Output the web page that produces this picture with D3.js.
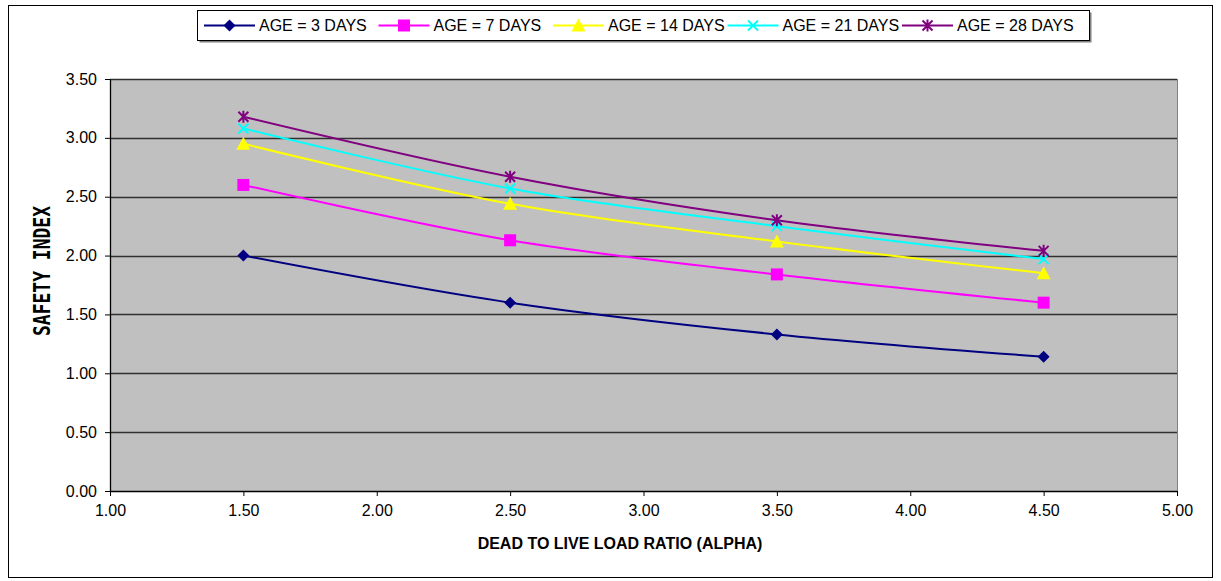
<!DOCTYPE html>
<html lang="en">
<head>
<meta charset="UTF-8">
<title>Safety index</title>
<style>
  body { margin: 0; background: #fff; }
  svg { display: block; }
  .tick text { font-family: Arial, "Liberation Sans", sans-serif; font-size: 16px; fill: #000; }
</style>
</head>
<body>
<svg id="chart" width="1221" height="581"></svg>
<script src="https://cdn.jsdelivr.net/npm/d3@7/dist/d3.min.js"></script>
<script>
// data
const alpha = [1.5, 2.5, 3.5, 4.5];
const seriesNames = ['AGE = 3 DAYS', 'AGE = 7 DAYS', 'AGE = 14 DAYS', 'AGE = 21 DAYS', 'AGE = 28 DAYS'];
const age3 = [2.00, 1.60, 1.33, 1.14];
const age7 = [2.60, 2.13, 1.84, 1.60];
const age14 = [2.95, 2.44, 2.12, 1.85];
const age21 = [3.08, 2.57, 2.25, 1.97];
const age28 = [3.18, 2.67, 2.30, 2.04];
const xTicks = [1, 1.5, 2, 2.5, 3, 3.5, 4, 4.5, 5];
const yTicks = [0, 0.5, 1, 1.5, 2, 2.5, 3, 3.5];

const colors = ['#000080', '#FF00FF', '#FFFF00', '#00FFFF', '#800080'];
const markers = ['diamond', 'square', 'triangle', 'x', 'star'];
const allSeries = [age3, age7, age14, age21, age28].map((vals, i) => ({
  name: seriesNames[i], color: colors[i], marker: markers[i],
  pts: vals.map((v, j) => [alpha[j], v])
}));

const svg = d3.select('#chart');
const plot = { left: 110, right: 1177, top: 79, bottom: 491 };

const x = d3.scaleLinear().domain([1, 5]).range([plot.left, plot.right]);
const y = d3.scaleLinear().domain([0, 3.5]).range([plot.bottom, plot.top]);

// outer frame
svg.append('rect').attr('x', 8.5).attr('y', 5.5).attr('width', 1204).attr('height', 572)
  .attr('fill', '#fff').attr('stroke', '#000').attr('stroke-width', 1);

// plot background
svg.append('rect').attr('x', plot.left).attr('y', plot.top)
  .attr('width', plot.right - plot.left).attr('height', plot.bottom - plot.top)
  .attr('fill', '#C0C0C0');

// grid lines
svg.append('g').selectAll('line').data(yTicks.filter(d => d > 0)).enter().append('line')
  .attr('x1', plot.left).attr('x2', plot.right)
  .attr('y1', d => Math.round(y(d)) + 0.5).attr('y2', d => Math.round(y(d)) + 0.5)
  .attr('stroke', '#303030').attr('stroke-width', 1.3);

// right edge of plot
svg.append('line').attr('x1', plot.right + 0.5).attr('x2', plot.right + 0.5)
  .attr('y1', plot.top).attr('y2', plot.bottom).attr('stroke', '#808080').attr('stroke-width', 1);

// axes
const xAxis = svg.append('g').attr('transform', `translate(0,${plot.bottom})`)
  .call(d3.axisBottom(x).tickValues(xTicks).tickFormat(d3.format('.2f')).tickSize(5).tickSizeOuter(0).tickPadding(9));
const yAxis = svg.append('g').attr('transform', `translate(${plot.left},0)`)
  .call(d3.axisLeft(y).tickValues(yTicks).tickFormat(d3.format('.2f')).tickSize(5).tickSizeOuter(0).tickPadding(8));
[xAxis, yAxis].forEach(a => {
  a.select('.domain').attr('stroke', '#000').attr('stroke-width', 1.3);
  a.selectAll('.tick line').attr('stroke', '#000');
});

// axis titles
svg.append('text').attr('x', 620).attr('y', 549).attr('text-anchor', 'middle')
  .style('font-family', 'Arial, "Liberation Sans", sans-serif').style('font-weight', 'bold').style('font-size', '16px')
  .text('DEAD TO LIVE LOAD RATIO (ALPHA)');
svg.append('text').attr('transform', 'translate(50,271) rotate(-90) scale(1,1.25)')
  .attr('text-anchor', 'middle')
  .style('font-family', '"DejaVu Sans Mono", monospace').style('font-weight', 'bold').style('font-size', '18px')
  .text('SAFETY INDEX');

// marker shapes
function drawMarker(g, type, color) {
  if (type === 'diamond') {
    g.append('path').attr('d', 'M0,-6L6,0L0,6L-6,0Z').attr('fill', color);
  } else if (type === 'square') {
    g.append('rect').attr('x', -6).attr('y', -6).attr('width', 12).attr('height', 12).attr('fill', color);
  } else if (type === 'triangle') {
    g.append('path').attr('d', 'M0,-7L7,6L-7,6Z').attr('fill', color);
  } else if (type === 'x') {
    g.append('path').attr('d', 'M-5,-5L5,5M5,-5L-5,5').attr('stroke', color).attr('stroke-width', 2);
  } else {
    g.append('path').attr('d', 'M-5,-5L5,5M5,-5L-5,5M0,-6L0,6').attr('stroke', color).attr('stroke-width', 2);
  }
}

const line = d3.line().x(d => x(d[0])).y(d => y(d[1])).curve(d3.curveCardinal.tension(0));

const seriesG = svg.append('g').selectAll('g').data(allSeries).enter().append('g');
seriesG.append('path').attr('d', d => line(d.pts)).attr('fill', 'none')
  .attr('stroke', d => d.color).attr('stroke-width', 2);
seriesG.each(function (s) {
  const g = d3.select(this);
  s.pts.forEach(p => {
    drawMarker(g.append('g').attr('transform', `translate(${x(p[0])},${y(p[1])})`), s.marker, s.color);
  });
});

// legend
const legend = svg.append('g');
legend.append('rect').attr('x', 199.5).attr('y', 12.5).attr('width', 892).attr('height', 30).attr('fill', '#808080');
legend.append('rect').attr('x', 197.5).attr('y', 10.5).attr('width', 892).attr('height', 30)
  .attr('fill', '#fff').attr('stroke', '#000').attr('stroke-width', 1);
const items = legend.selectAll('g.item').data(allSeries).enter().append('g')
  .attr('class', 'item').attr('transform', (d, i) => `translate(${204 + i * 174.5},25.5)`);
items.append('line').attr('x1', 0).attr('x2', 51).attr('stroke', d => d.color).attr('stroke-width', 2);
items.each(function (s) {
  drawMarker(d3.select(this).append('g').attr('transform', 'translate(25.5,0)'), s.marker, s.color);
});
items.append('text').attr('x', 55).attr('y', 5.5)
  .style('font-family', 'Arial, "Liberation Sans", sans-serif').style('font-size', '16px')
  .text(d => d.name);
</script>
</body>
</html>
